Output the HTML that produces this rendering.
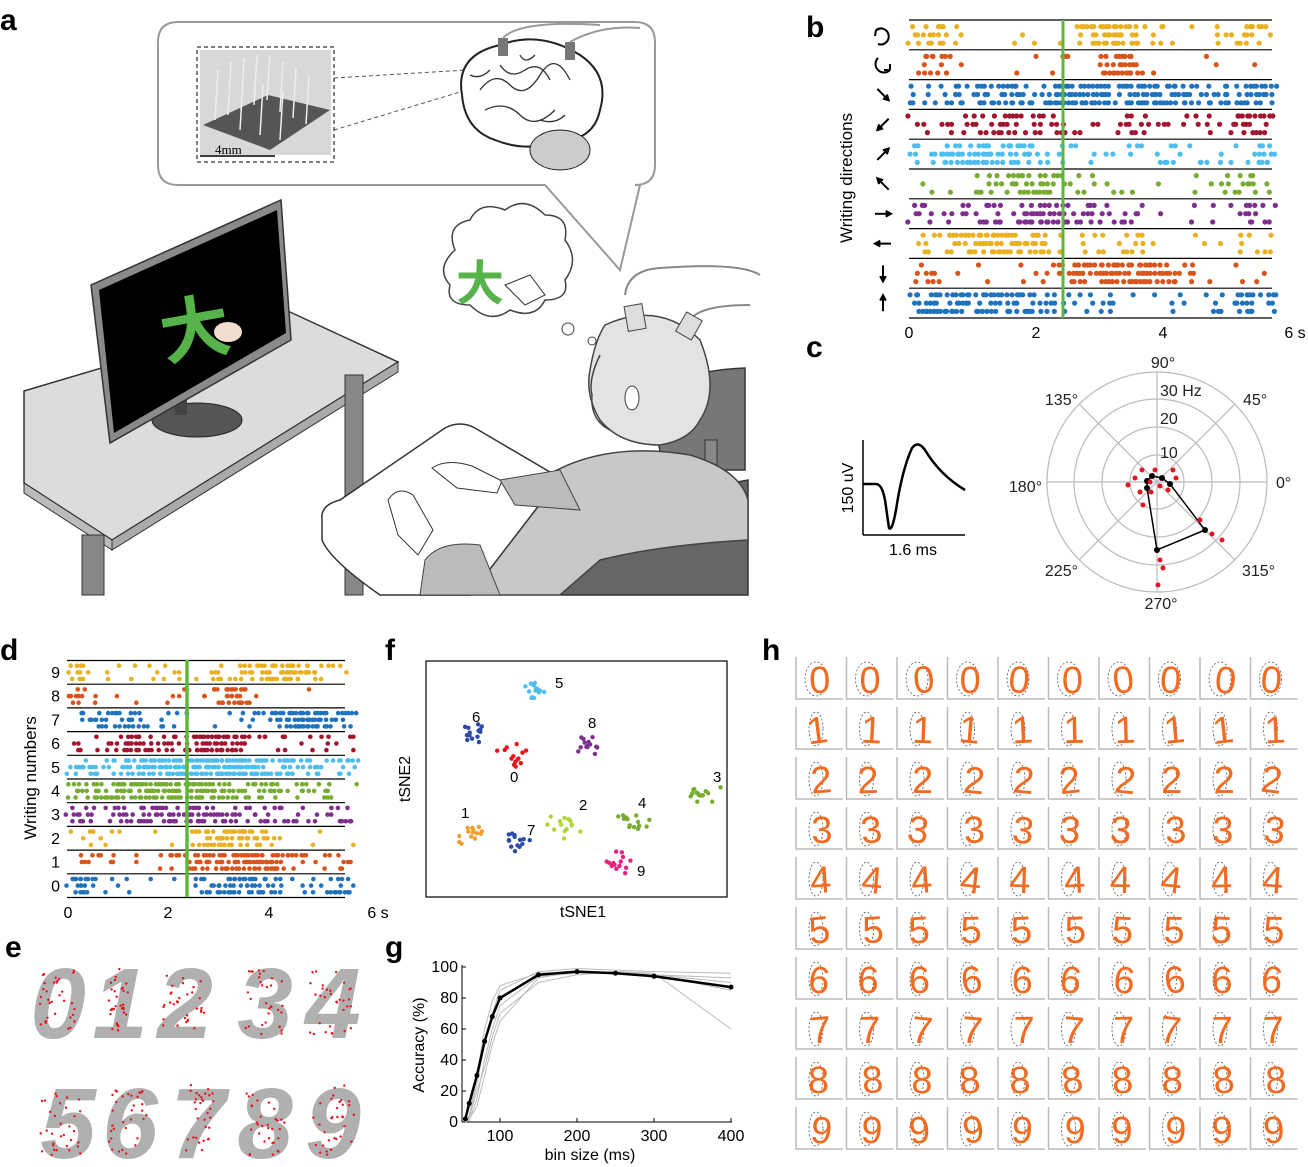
<!DOCTYPE html>
<html><head><meta charset="utf-8">
<style>
html,body{margin:0;padding:0;background:#fff;}
svg{display:block;font-family:"Liberation Sans",Arial,sans-serif;}
</style></head>
<body>
<svg id="s" width="1308" height="1167" viewBox="0 0 1308 1167" xmlns="http://www.w3.org/2000/svg">
<g font-weight="bold" font-size="30" fill="#000">
<text x="0" y="30">a</text><text x="806" y="37">b</text><text x="806" y="357">c</text>
<text x="0" y="660">d</text><text x="385" y="660">f</text><text x="762" y="660">h</text>
<text x="5" y="957">e</text><text x="385" y="957">g</text>
</g>

<g id="pa">
<path d="M178,22 H635 Q655,22 655,42 V165 Q655,185 635,185 H640 L620,270 L545,185 H178 Q158,185 158,165 V42 Q158,22 178,22 Z" fill="#fff" stroke="#999" stroke-width="2"/>
<rect x="197" y="47" width="137" height="115" fill="none" stroke="#555" stroke-dasharray="4,3" stroke-width="1.5"/>
<rect x="200" y="50" width="131" height="105" fill="#d8d8d8"/>
<polygon points="203,125 268,95 330,110 270,150" fill="#555"/>
<g stroke="#eee" stroke-width="1.5">
<line x1="215" y1="120" x2="218" y2="70"/><line x1="228" y1="115" x2="231" y2="62"/><line x1="241" y1="110" x2="244" y2="58"/><line x1="254" y1="105" x2="257" y2="55"/><line x1="267" y1="100" x2="270" y2="55"/>
<line x1="280" y1="112" x2="283" y2="62"/><line x1="293" y1="118" x2="296" y2="68"/><line x1="306" y1="124" x2="309" y2="76"/><line x1="240" y1="130" x2="243" y2="80"/><line x1="260" y1="135" x2="263" y2="85"/><line x1="280" y1="140" x2="283" y2="92"/>
</g>
<line x1="200" y1="156" x2="275" y2="156" stroke="#000" stroke-width="1.5"/>
<text x="215" y="154" font-family="Liberation Serif,serif" font-size="13">4mm</text>
<line x1="334" y1="78" x2="500" y2="68" stroke="#555" stroke-dasharray="4,3"/>
<line x1="334" y1="130" x2="500" y2="80" stroke="#555" stroke-dasharray="4,3"/>
<path d="M462,95 Q455,55 500,45 Q540,30 580,55 Q610,75 600,110 Q595,135 570,140 Q560,165 545,145 Q520,150 495,140 Q465,130 462,95 Z" fill="#fff" stroke="#222" stroke-width="2"/>
<path d="M480,90 q15,-20 30,-5 t30,-10 t30,5 M485,110 q20,-10 35,5 t35,-5 M500,65 q10,15 25,5 t25,10 M470,75 q10,5 20,-5 M540,120 q15,5 25,-5 M520,55 q5,10 15,0" fill="none" stroke="#333" stroke-width="1.3"/>
<ellipse cx="560" cy="150" rx="30" ry="20" fill="#ccc" stroke="#222"/>
<rect x="498" y="38" width="10" height="18" fill="#777"/><rect x="565" y="42" width="10" height="18" fill="#777"/>
<path d="M503,38 Q520,20 600,25 M570,42 Q600,25 640,28" fill="none" stroke="#999" stroke-width="2"/>
<polygon points="24,391 290,312 398,362 112,540 24,483" fill="#dcdcdc" stroke="#333" stroke-width="1.5"/>
<polygon points="24,483 112,540 112,550 24,493" fill="#bbb" stroke="#333"/>
<polygon points="112,540 398,362 398,372 112,550" fill="#aaa" stroke="#333"/>
<rect x="82" y="535" width="22" height="60" fill="#888" stroke="#333"/>
<rect x="345" y="375" width="18" height="220" fill="#888" stroke="#333"/>
<ellipse cx="197" cy="420" rx="45" ry="17" fill="#555" stroke="#222"/>
<rect x="175" y="380" width="12" height="35" fill="#444"/>
<polygon points="91,285 281,200 291,340 110,443" fill="#8a8a8a" stroke="#333" stroke-width="1.5"/>
<polygon points="99,290 277,210 286,333 114,433" fill="#000"/>
<text x="160" y="355" font-family="Noto Sans CJK SC,sans-serif" font-size="70" font-weight="bold" fill="#55b34a" transform="rotate(-10 190 330)">大</text>
<ellipse cx="228" cy="332" rx="14" ry="10" fill="#f0ddd0"/>
<path d="M455,250 Q445,225 470,220 Q480,200 505,210 Q525,195 545,215 Q570,215 565,240 Q580,260 565,280 Q570,300 545,300 Q535,320 510,310 Q490,325 470,305 Q445,305 450,285 Q435,268 455,250 Z" fill="#fff" stroke="#444" stroke-width="1.5"/>
<text x="456" y="300" font-family="Noto Sans CJK SC,sans-serif" font-size="48" font-weight="bold" fill="#55b34a">大</text>
<path d="M505,285 l25,-10 l15,20 l-20,10 z" fill="#fff" stroke="#333"/>
<circle cx="568" cy="329" r="6" fill="#fff" stroke="#444"/><circle cx="592" cy="341" r="4" fill="#fff" stroke="#444"/>
<path d="M625,295 Q628,270 660,268 Q740,262 760,275" fill="none" stroke="#888" stroke-width="2"/>
<path d="M690,320 Q700,305 750,305" fill="none" stroke="#888" stroke-width="2"/>
<path d="M662,390 Q690,370 745,368 V470 Q700,470 668,470 Q650,440 662,390 Z" fill="#777" stroke="#333" stroke-width="1.5"/>
<rect x="705" y="440" width="12" height="70" fill="#888" stroke="#333"/>
<path d="M560,595 Q570,520 640,500 L748,480 V595 Z" fill="#666" stroke="#333" stroke-width="1.5"/>
<path d="M605,325 Q660,300 700,340 Q720,390 700,420 Q690,440 660,445 Q620,445 600,420 Q585,395 590,370 Q595,340 605,325 Z" fill="#e3e3e3" stroke="#444" stroke-width="1.5"/>
<path d="M600,355 Q588,380 592,395 Q590,420 610,430" fill="none" stroke="#444" stroke-width="1.5"/>
<ellipse cx="632" cy="398" rx="7" ry="12" fill="#fff" stroke="#444"/>
<rect x="626" y="305" width="18" height="25" fill="#ddd" stroke="#444" transform="rotate(-10 635 317)"/>
<rect x="680" y="315" width="18" height="22" fill="#ddd" stroke="#444" transform="rotate(30 689 326)"/>
<path d="M540,480 Q600,440 690,455 Q740,470 748,500 V540 Q660,545 600,560 L560,595 H420 Q430,560 500,530 Q520,500 540,480 Z" fill="#c8c8c8" stroke="#444" stroke-width="1.5"/>
<path d="M322,520 Q320,505 340,500 L445,428 Q460,420 475,428 L560,478 L470,595 H380 Q330,560 322,540 Z" fill="#fff" stroke="#333" stroke-width="1.5"/>
<path d="M432,468 q15,-10 40,-2 l30,15 -5,12 -40,-5 z" fill="#fff" stroke="#333"/>
<path d="M388,500 q10,-15 25,-5 l20,35 -15,25 -20,-20 z" fill="#fff" stroke="#333"/>
<path d="M500,480 L560,470 L580,510 L515,505 Z" fill="#bbb" stroke="#444"/>
<path d="M425,560 Q440,540 480,545 L500,595 H420 Z" fill="#bbb" stroke="#444"/>
</g>

<g id="pb"></g>
<text x="852" y="178" font-size="17" text-anchor="middle" transform="rotate(-90 852 178)">Writing directions</text>
<g font-size="16" text-anchor="middle">
<text x="909" y="338">0</text><text x="1036" y="338">2</text><text x="1163" y="338">4</text><text x="1295" y="338">6 s</text>
</g>
<g id="arrows" stroke="#000" stroke-width="2" fill="none"></g>

<g>
<line x1="863" y1="440" x2="863" y2="535" stroke="#000" stroke-width="1.5"/>
<line x1="863" y1="535" x2="965" y2="535" stroke="#000" stroke-width="1.5"/>
<path d="M863,484 L876,484 Q882,484 885,500 L889,528 Q892,532 896,510 Q902,470 912,448 Q918,440 925,450 Q940,475 965,490" fill="none" stroke="#000" stroke-width="2.5"/>
<text x="853" y="488" font-size="16" text-anchor="middle" transform="rotate(-90 853 488)">150 uV</text>
<text x="913" y="555" font-size="16" text-anchor="middle">1.6 ms</text>
</g>
<g id="pc" font-size="16"></g>

<g id="pd"></g>
<text x="36" y="778" font-size="17" text-anchor="middle" transform="rotate(-90 36 778)">Writing numbers</text>
<g font-size="16" text-anchor="middle">
<text x="68" y="918">0</text><text x="168" y="918">2</text><text x="269" y="918">4</text><text x="378" y="918">6 s</text>
</g>

<g id="pe" font-size="100" font-weight="bold" font-style="italic" fill="#b0b0b0" text-anchor="middle">
<text x="58" y="1038">0</text><text x="120" y="1038">1</text><text x="185" y="1038">2</text><text x="265" y="1038">3</text><text x="333" y="1038">4</text>
<text x="68" y="1158">5</text><text x="130" y="1158">6</text><text x="198" y="1158">7</text><text x="265" y="1158">8</text><text x="333" y="1158">9</text>
</g>
<g id="pedots"></g>

<rect x="426" y="661" width="301" height="236" fill="none" stroke="#000" stroke-width="1.2"/>
<g id="pf" font-size="15"></g>
<text x="410" y="779" font-size="16" text-anchor="middle" transform="rotate(-90 410 779)">tSNE2</text>
<text x="583" y="917" font-size="16" text-anchor="middle">tSNE1</text>

<g id="pg" font-size="16"></g>
<text x="424" y="1045" font-size="16" text-anchor="middle" transform="rotate(-90 424 1045)">Accuracy (%)</text>
<text x="590" y="1160" font-size="16" text-anchor="middle">bin size (ms)</text>

<g id="ph"></g>
</svg>
<script>
var NS="http://www.w3.org/2000/svg";
function el(p,t,a,txt){var e=document.createElementNS(NS,t);for(var k in a)e.setAttribute(k,a[k]);if(txt!==undefined)e.textContent=txt;document.getElementById(p).appendChild(e);return e;}
var seed=12345;function rnd(){seed=(seed*1103515245+12345)%2147483648;return seed/2147483648;}
function gauss(){return (rnd()+rnd()+rnd()+rnd()-2)/1.2;}
var C=["#e9b021","#d9541a","#1f72bd","#a2152e","#4dbeee","#77ac30","#7e2f8e","#e9b021","#d9541a","#1f72bd"];
function raster(g,x0,x1,pps,y0,rowH,dens,r,lineEnd){
 for(var i=0;i<=10;i++){el(g,"line",{x1:x0,x2:lineEnd,y1:y0+i*rowH,y2:y0+i*rowH,stroke:"#000","stroke-width":1.2});}
 for(var i=0;i<10;i++){
  var d=dens[i];
  for(var s=0;s<3;s++){
   var yy=y0+i*rowH+rowH*(0.22+0.28*s);
   for(var t=0;t<5.75;t+=0.05){
     var p=d.base; for(var k=0;k<d.peaks.length;k++){var pk=d.peaks[k];var z=(t-pk[0])/pk[1];p+=pk[2]*Math.exp(-z*z);}
     if(rnd()<p) el(g,"circle",{cx:(x0+t*pps+(rnd()-0.5)*3).toFixed(1),cy:yy.toFixed(1),r:r,fill:C[i]});
   }
  }
 }
}
var densB=[
 {base:0.08,peaks:[[0.3,0.4,0.5],[3.2,0.4,0.8],[5.3,0.3,0.5]]},
 {base:0.03,peaks:[[0.4,0.3,0.4],[3.3,0.25,0.9]]},
 {base:0.3,peaks:[[3,1.5,0.5],[5.5,0.3,0.4]]},
 {base:0.18,peaks:[[1.8,0.8,0.3],[5.4,0.3,0.4]]},
 {base:0.12,peaks:[[1.2,1,0.5],[5.5,0.2,0.5]]},
 {base:0.08,peaks:[[1.8,0.7,0.5],[5.4,0.3,0.5]]},
 {base:0.15,peaks:[[2.2,0.9,0.4],[5.5,0.2,0.4]]},
 {base:0.06,peaks:[[1.5,0.9,0.7],[3.5,0.2,0.3],[5.5,0.2,0.4]]},
 {base:0.04,peaks:[[3.4,0.9,0.8],[0.2,0.3,0.3]]},
 {base:0.15,peaks:[[0.7,0.7,0.6],[2,0.5,0.3],[5.4,0.2,0.5]]}];
raster("pb",909,1275,63.7,20,29.8,densB,2.6,1272);
el("pb","line",{x1:1063,x2:1063,y1:20,y2:318,stroke:"#5cb83a","stroke-width":3});
(function(){var ang=[null,null,-45,-135,45,135,0,180,-90,90];
 for(var i=0;i<10;i++){var cy=35+i*29.8,cx=883;
  if(i<2){el("arrows","path",{d:i==0?"M876,30 A8,8 0 1 1 878,44 M876,30 l6,-2 M876,30 l-1,6":"M878,58 A8,8 0 1 0 890,70 M890,70 l-6,0 M890,70 l0,-6"});continue;}
  var a=ang[i]*Math.PI/180,dx=Math.cos(a)*8,dy=Math.sin(a)*8;
  var x2=cx+dx,y2=cy-dy;
  el("arrows","line",{x1:cx-dx,y1:cy+dy,x2:x2,y2:y2});
  var ah=a+Math.PI;var h1=ah+0.5,h2=ah-0.5;
  el("arrows","path",{d:"M"+(x2+Math.cos(h1)*6)+","+(y2-Math.sin(h1)*6)+" L"+x2+","+y2+" L"+(x2+Math.cos(h2)*6)+","+(y2-Math.sin(h2)*6),fill:"#000"});
 }})();
(function(){var cx=1157,cy=482;
 el("pc","circle",{cx:cx,cy:cy,r:110,fill:"#fff",stroke:"#bbb","stroke-width":1.2});
 [83,55,27].forEach(function(r){el("pc","circle",{cx:cx,cy:cy,r:r,fill:"none",stroke:"#bbb","stroke-width":1.2});});
 for(var k=0;k<4;k++){var a=k*Math.PI/4;el("pc","line",{x1:cx+110*Math.cos(a),y1:cy-110*Math.sin(a),x2:cx-110*Math.cos(a),y2:cy+110*Math.sin(a),stroke:"#bbb","stroke-width":1.2});}
 var L=[["90°",1163,368,"middle"],["45°",1243,405,"start"],["135°",1078,405,"end"],["180°",1042,492,"end"],["0°",1276,488,"start"],["225°",1078,576,"end"],["315°",1242,576,"start"],["270°",1161,609,"middle"],["30 Hz",1160,396,"start"],["20",1160,424,"start"],["10",1160,458,"start"]];
 L.forEach(function(l){el("pc","text",{x:l[1],y:l[2],"text-anchor":l[3],fill:"#222"},l[0]);});
 el("pc","path",{d:"M1147,481 L1152,476 L1162,478 L1170,484 L1205,530 L1157,550 L1147,488 Z",fill:"none",stroke:"#000","stroke-width":1.5});
 [[1147,481],[1152,476],[1162,478],[1170,484],[1205,530],[1157,550],[1147,488]].forEach(function(p){el("pc","circle",{cx:p[0],cy:p[1],r:3,fill:"#000"});});
 [[1128,485],[1143,505],[1163,568],[1158,585],[1212,534],[1222,540],[1142,470],[1155,470],[1173,470],[1168,490],[1135,478],[1151,492],[1160,560],[1200,520],[1140,492],[1176,478],[1150,482],[1160,486]].forEach(function(p){el("pc","circle",{cx:p[0],cy:p[1],r:2.5,fill:"#e8141b"});});
})();
var densD=[
 {base:0.1,peaks:[[0.2,0.2,0.6],[4.2,0.8,0.6]]},
 {base:0.03,peaks:[[0.2,0.2,0.5],[3.3,0.3,0.8]]},
 {base:0.08,peaks:[[1.2,0.6,0.4],[4.8,0.7,0.7]]},
 {base:0.12,peaks:[[1.8,0.8,0.4],[3,0.4,0.8]]},
 {base:0.3,peaks:[[2.8,1.5,0.6]]},
 {base:0.2,peaks:[[2,1.5,0.5]]},
 {base:0.2,peaks:[[2,1.5,0.4]]},
 {base:0.05,peaks:[[3.3,0.6,0.7],[0.4,0.4,0.2]]},
 {base:0.08,peaks:[[3.5,1,0.8]]},
 {base:0.05,peaks:[[0.3,0.3,0.6],[3.5,0.6,0.7],[5.5,0.2,0.6]]}];
raster("pd",67,355,50.4,660.5,23.7,densD,2.3,345);
el("pd","line",{x1:187,x2:187,y1:660,y2:897,stroke:"#5cb83a","stroke-width":3.5});
for(var i=0;i<10;i++)el("pd","text",{x:60,y:678+i*23.7,"font-size":16,"text-anchor":"end"},String(9-i));
(function(){var b=[[40,970,35,60],[108,965,20,70],[160,975,45,55],[245,970,40,65],[310,970,45,65],[40,1090,45,65],[108,1090,40,65],[180,1085,35,70],[245,1090,40,65],[310,1085,45,70]];
 b.forEach(function(q){for(var k=0;k<32;k++)el("pedots","circle",{cx:q[0]+rnd()*q[2],cy:q[1]+rnd()*q[3],r:1.2,fill:"#e8141b"});});})();
(function(){var cl=[["5","#4dbeee",535,692,555,688],["6","#2b4aa8",475,735,472,722],["8","#7e2f8e",588,745,588,728],["0","#e8141b",515,758,510,782],["1","#f0a030",470,832,461,818],["7","#2b4aa8",515,842,527,835],["2","#b2d63a",565,825,579,810],["4","#77ac30",635,822,638,808],["3","#77ac30",700,795,713,782],["9","#e6217f",620,860,637,876]];
 cl.forEach(function(c){for(var k=0;k<14;k++)el("pf","circle",{cx:c[2]+gauss()*15,cy:c[3]+gauss()*11,r:2.2,fill:c[1]});el("pf","text",{x:c[4],y:c[5]},c[0]);});})();
(function(){function X(v){return 500+(v-100)*0.77;}function Y(v){return 1122-v*1.55;}
 el("pg","line",{x1:462,x2:732,y1:1122,y2:1122,stroke:"#000"});el("pg","line",{x1:462,x2:462,y1:965,y2:1122,stroke:"#000"});
 [0,20,40,60,80,100].forEach(function(v){el("pg","line",{x1:462,x2:466,y1:Y(v),y2:Y(v),stroke:"#000"});el("pg","text",{x:458,y:Y(v)+5,"text-anchor":"end"},String(v));});
 [100,200,300,400].forEach(function(v){el("pg","line",{x1:X(v),x2:X(v),y1:1122,y2:1118,stroke:"#000"});el("pg","text",{x:X(v),y:1141,"text-anchor":"middle"},String(v));});
 var xs=[55,60,70,80,90,100,150,200,250,300,400];
 var curves=[[0,2,25,50,70,85,97,99,98,97,96],[0,1,15,40,60,75,94,96,97,96,60],[0,3,20,35,55,70,90,95,97,95,90],[0,2,10,30,50,65,93,97,96,95,85],[0,4,30,60,78,88,96,97,96,95,93]];
 curves.forEach(function(c){el("pg","polyline",{points:xs.map(function(x,i){return X(x)+","+Y(c[i]);}).join(" "),fill:"none",stroke:"#bbb","stroke-width":1});});
 var m=[2,12,30,52,68,80,95,97,96,94,87];
 el("pg","polyline",{points:xs.map(function(x,i){return X(x)+","+Y(m[i]);}).join(" "),fill:"none",stroke:"#000","stroke-width":2.5});
 xs.forEach(function(x,i){el("pg","circle",{cx:X(x),cy:Y(m[i]),r:2.5,fill:"#000"});});
})();
(function(){for(var r=0;r<10;r++)for(var c=0;c<10;c++){var x=796+c*50.5,y=657+r*50;
 el("ph","path",{d:"M"+x+","+y+" V"+(y+42)+" H"+(x+47),fill:"none",stroke:"#bbb","stroke-width":1.5});
 el("ph","ellipse",{cx:x+20,cy:y+22,rx:r==0?11:7,ry:17,fill:"none",stroke:"#555","stroke-dasharray":"2,2","stroke-width":0.8});
 el("ph","text",{x:x+24+(rnd()-0.5)*6,y:y+36,"font-size":38,"text-anchor":"middle",fill:"#f26b21","font-family":"Liberation Sans, sans-serif",transform:"rotate("+((rnd()-0.5)*16)+" "+(x+23)+" "+(y+22)+")"},String(r));
}})();
</script>
</body></html>
